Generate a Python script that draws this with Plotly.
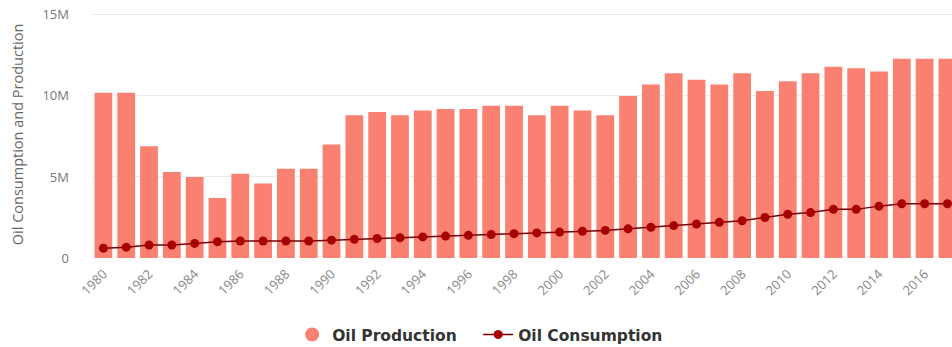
import plotly.graph_objects as go

years = [str(y) for y in range(1980, 2018)]
production = [10.2, 10.2, 6.9, 5.3, 5.0, 3.7, 5.2, 4.6, 5.5, 5.5,
              7.0, 8.8, 9.0, 8.8, 9.1, 9.2, 9.2, 9.4, 9.4, 8.8,
              9.4, 9.1, 8.8, 10.0, 10.7, 11.4, 11.0, 10.7, 11.4, 10.3,
              10.9, 11.4, 11.8, 11.7, 11.5, 12.3, 12.3, 12.3]
consumption = [0.6, 0.67, 0.8, 0.8, 0.9, 1.0, 1.05, 1.05, 1.05, 1.05,
               1.1, 1.15, 1.2, 1.25, 1.3, 1.35, 1.4, 1.45, 1.5, 1.55,
               1.6, 1.65, 1.7, 1.8, 1.9, 2.0, 2.1, 2.2, 2.3, 2.5,
               2.7, 2.8, 3.0, 3.0, 3.2, 3.35, 3.35, 3.35]
production = [v * 1e6 for v in production]
consumption = [v * 1e6 for v in consumption]

ytick_vals = [0, 5e6, 10e6, 15e6]
ytick_text = ["0", "5M", "10M", "15M"]
xtick_vals = years[::2]
y_title = "Oil Consumption and Production"

bar_color = "#FA8072"
line_color = "#A80000"

fig = go.Figure()
fig.add_trace(go.Bar(x=years, y=production, name="Oil Production",
                     marker=dict(color=bar_color, line=dict(width=0)),
                     showlegend=False))
fig.add_trace(go.Scatter(x=[None], y=[None], mode="markers", name="Oil Production",
                         marker=dict(color=bar_color, size=14, symbol="circle")))
fig.add_trace(go.Scatter(x=years, y=consumption, name="Oil Consumption",
                         mode="lines+markers",
                         line=dict(color="#7a0000", width=1.5),
                         marker=dict(color=line_color, size=9)))

fig.add_annotation(text=y_title, xref="paper", yref="paper", x=-0.087, y=0.5,
                   xanchor="center", yanchor="middle", textangle=-90, showarrow=False,
                   font=dict(family="Open Sans, sans-serif", size=14.5, color="#666666"))

fig.update_layout(
    width=952, height=347,
    margin=dict(l=92, r=0, t=10, b=89, autoexpand=False),
    plot_bgcolor="white", paper_bgcolor="white",
    bargap=0.22,
    font=dict(family="Open Sans, sans-serif", color="#666666", size=12),
    legend=dict(orientation="h", x=0.449, xanchor="center", y=-0.31, yanchor="middle",
                font=dict(family="DejaVu Sans", size=15.5, color="#333333", weight="bold"),
                itemwidth=30, entrywidth=141, traceorder="normal"),
    xaxis=dict(type="category", range=[-0.5, 37.2], tickvals=xtick_vals,
               tickangle=-45, showgrid=False, ticks="", showline=False,
               automargin=False, ticklabelstandoff=5,
               tickfont=dict(size=13, color="#888888")),
    yaxis=dict(range=[0, 15.3e6], tickvals=ytick_vals, ticktext=ytick_text,
               gridcolor="#ebebeb", zeroline=False, showline=False,
               automargin=False, ticklabelstandoff=22, ticklabeloverflow="allow",
               tickfont=dict(size=13, color="#777777")),
)

fig.write_html("out.html", config={"displayModeBar": False},
               post_script="document.body.style.margin='0';document.body.style.overflow='hidden';")
